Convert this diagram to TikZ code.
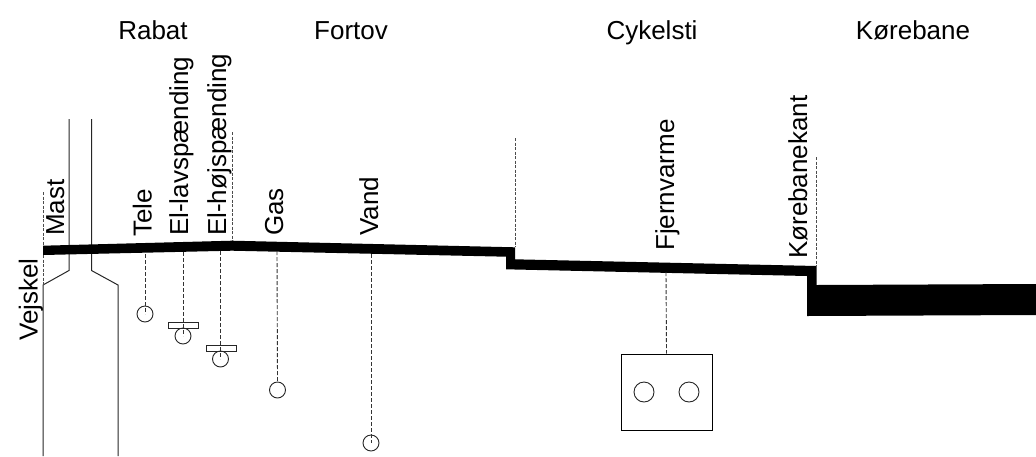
\documentclass[tikz,border=0pt]{standalone}
\usepackage{fontspec}
\setmainfont{Liberation Sans}
\begin{document}
\begin{tikzpicture}[x=1pt,y=-1pt,
  lbl/.style={inner sep=0pt,font=\fontsize{26}{30}\selectfont,anchor=base},
  vlbl/.style={lbl,rotate=90,anchor=base west},
  solidline/.style={draw=black!85,line width=1pt},
  dashline/.style={draw=black!80,line width=0.9pt,dash pattern=on 4pt off 2pt},
  dotline/.style={draw=black!70,line width=0.8pt,dash pattern=on 3pt off 1.5pt},
  pipe/.style={circle,draw=black!85,line width=0.9pt,inner sep=0pt,fill=none},
  cover/.style={rectangle,draw=black!85,line width=0.9pt,inner sep=0pt,minimum width=30pt,minimum height=6pt,fill=none}]
\useasboundingbox (0,0) rectangle (1036,456);
% headings
\node[lbl] (rabat) at (153,39) {Rabat};
\node[lbl] (fortov) at (351,39) {Fortov};
\node[lbl] (cykel) at (652,39) {Cykelsti};
\node[lbl] (korebane) at (913,39) {Kørebane};
% mast
\draw[solidline] (69,119) -- (69,270.5) -- (43,285) -- (43,456);
\draw[solidline] (91.5,119) -- (91.5,270.5) -- (118,285) -- (118,456);
% surface
\fill[black] (43,245.7) -- (232,240.7) -- (515,247.3) -- (515,259.3) -- (816.7,266) -- (816.7,285) -- (1036,284) -- (1036,315) -- (807,316) -- (807,276) -- (506,269.3) -- (506,256.7) -- (232,250.7) -- (43,255) -- cycle;
% coordinates on the surface
\coordinate (s0) at (43,245.7);
\coordinate (s0b) at (43,255);
\coordinate (s1) at (145,254);
\coordinate (s2) at (183,252);
\coordinate (s3) at (220.5,251);
\coordinate (s4) at (232,241);
\coordinate (s5) at (277,251);
\coordinate (s6) at (371,254);
\coordinate (s7) at (515,247.3);
\coordinate (s8) at (666,272);
\coordinate (s9) at (816.7,266);
\coordinate (t0) at (43,192);
\coordinate (t0b) at (43,285);
\coordinate (t4) at (232,132);
\coordinate (t7) at (515,138);
\coordinate (t9) at (816.7,157);
% pipes
\node[pipe,minimum size=16pt] (tele) at (145,314) {};
\node[cover] (c1) at (183,325.5) {};
\node[pipe,minimum size=16pt] (lav) at (183,336) {};
\node[cover] (c2) at (221,348) {};
\node[pipe,minimum size=16pt] (hoj) at (220.5,359) {};
\node[pipe,minimum size=16pt] (gas) at (277.5,390) {};
\node[pipe,minimum size=16pt] (vand) at (371,443) {};
\node[rectangle,draw=black,line width=0.9pt,minimum width=91pt,minimum height=76pt,inner sep=0pt] (box) at (666.5,392) {};
\node[pipe,minimum size=20pt] (f1) at (644,392) {};
\node[pipe,minimum size=20pt] (f2) at (689,392) {};
% leaders
\draw[dotline] (t0) -- (s0);
\draw[dotline] (s0b) -- (t0b);
\draw[dashline] (s1) -- (tele.center);
\draw[dashline] (s2) -- (lav.center);
\draw[dashline] (s3) -- (hoj.center);
\draw[dotline] (t4) -- (s4);
\draw[dashline] (s5) -- (gas.north);
\draw[dashline] (s6) -- (vand.center);
\draw[dotline] (t7) -- (s7);
\draw[dashline] (s8) -- (box.north);
\draw[dotline] (t9) -- (s9);
% vertical labels
\node[vlbl] (mast) at (64,236) {Mast};
\node[vlbl] (vejskel) at (37.5,341) {Vejskel};
\node[vlbl] (telel) at (151.5,237) {Tele};
\node[vlbl] (lavl) at (188,236) {El-lavspænding};
\node[vlbl] (hojl) at (226,236) {El-højspænding};
\node[vlbl] (gasl) at (283,236) {Gas};
\node[vlbl] (vandl) at (378,236) {Vand};
\node[vlbl] (fjern) at (674,251) {Fjernvarme};
\node[vlbl] (kant) at (807,259) {Kørebanekant};
\end{tikzpicture}
\end{document}
